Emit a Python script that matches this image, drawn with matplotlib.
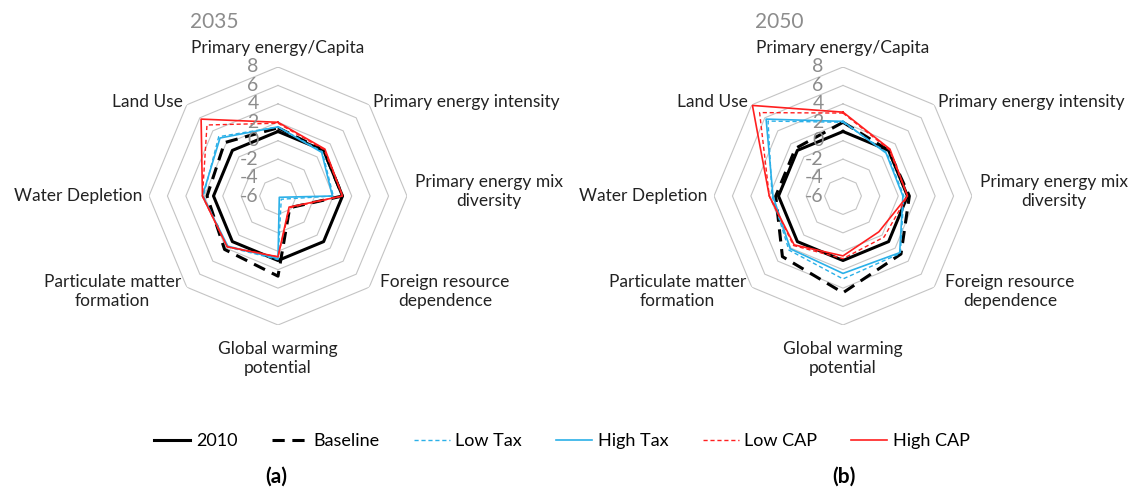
import numpy as np
import matplotlib.pyplot as plt
from matplotlib.lines import Line2D

plt.rcParams['font.family'] = ['Lato', 'DejaVu Sans']

# axes, clockwise from the top
categories = ["Primary energy/Capita", "Primary energy intensity",
              "Primary energy mix\ndiversity", "Foreign resource\ndependence",
              "Global warming\npotential", "Particulate matter\nformation",
              "Water Depletion", "Land Use"]

series_names = ["2010", "Baseline", "Low Tax", "High Tax", "Low CAP", "High CAP"]

# 2035
y2035_2010 = [1, 1, 1, 1, 1, 1, 1, 1]
y2035_baseline = [1.4, 1.0, 1.0, -4.2, 2.7, 2.2, 1.7, 2.2]
y2035_lowtax = [1.5, 0.8, 0.0, -5.5, 0.9, 1.8, 2.1, 3.1]
y2035_hightax = [1.5, 0.7, -0.1, -5.8, 0.8, 1.7, 2.2, 2.9]
y2035_lowcap = [1.9, 1.1, 1.0, -4.2, 0.6, 1.8, 2.2, 4.9]
y2035_highcap = [2.0, 1.2, 1.0, -4.3, 0.6, 1.8, 2.2, 5.8]

# 2050
y2050_2010 = [1, 1, 1, 1, 1, 1, 1, 1]
y2050_baseline = [2.0, 1.0, 1.2, 2.9, 4.5, 3.3, 1.3, 1.3]
y2050_lowtax = [2.0, 0.7, 0.6, 2.8, 3.0, 2.3, 1.7, 5.5]
y2050_hightax = [2.1, 0.6, 0.5, 2.7, 2.4, 2.1, 1.6, 5.8]
y2050_lowcap = [3.0, 1.1, 1.0, 0.3, 0.8, 1.6, 2.0, 6.8]
y2050_highcap = [3.1, 1.2, 1.0, -0.5, 0.5, 1.5, 2.0, 7.9]

r_ticks = [-6, -4, -2, 0, 2, 4, 6, 8]

styles = [
    dict(color="black", lw=2.2, ls="-"),
    dict(color="black", lw=2.2, ls=(0, (4, 2.5))),
    dict(color="#2BB0E8", lw=1.0, ls=(0, (3, 2))),
    dict(color="#2BB0E8", lw=1.2, ls="-"),
    dict(color="#FF1F1F", lw=1.0, ls=(0, (3, 2))),
    dict(color="#FF1F1F", lw=1.2, ls="-"),
]

# label offsets (points) from the outer vertex, and alignment
label_pos = [
    ((0, 14), "center"), ((3, 2), "left"), ((6, 3), "left"), ((8, -3), "left"),
    ((0, -24), "center"), ((-4, -3), "right"), ((-5, 0), "right"), ((-3, 2), "right"),
]

fig = plt.figure(figsize=(11.37, 4.95), dpi=100)
W, H = 1137, 495
R = 129

theta = np.linspace(0, 2 * np.pi, len(categories), endpoint=False)
theta_c = np.append(theta, theta[0])

def radar(cx, cy, data, year):
    ax = fig.add_axes([(cx - R) / W, (H - cy - R) / H, 2 * R / W, 2 * R / H], polar=True)
    ax.set_theta_offset(np.pi / 2)
    ax.set_theta_direction(-1)
    ax.set_ylim(-6, 8)
    ax.grid(False)
    ax.spines['polar'].set_visible(False)
    ax.set_xticks([])
    ax.set_yticks([])
    for v in r_ticks[1:]:
        ax.plot(theta_c, [v] * len(theta_c), color="#C4C4C4", lw=0.8, zorder=1)
    for vals, st in zip(data, styles):
        ax.plot(theta_c, list(vals) + [vals[0]], zorder=3, **st)
    for v in r_ticks:
        ax.annotate(str(v), xy=(0, v), xytext=(-14, 0), textcoords="offset points",
                    ha="right", va="center", color="#8C8C8C", fontsize=14, zorder=4)
    for t, lab, (off, ha) in zip(theta, categories, label_pos):
        ax.annotate(lab, xy=(t, 8), xytext=off, textcoords="offset points",
                    ha=ha, va="center", multialignment="center", fontsize=12.5,
                    color="#222222", linespacing=1.25, annotation_clip=False)
    fig.text((cx - 88) / W, 1 - 22 / H, year, ha="left", va="center",
             color="#8C8C8C", fontsize=15)
    return ax

radar(278, 196, [y2035_2010, y2035_baseline, y2035_lowtax, y2035_hightax,
                 y2035_lowcap, y2035_highcap], "2035")
radar(843, 196, [y2050_2010, y2050_baseline, y2050_lowtax, y2050_hightax,
                 y2050_lowcap, y2050_highcap], "2050")

handles = [Line2D([], [], **st) for st in styles]
fig.legend(handles, series_names, loc="center", bbox_to_anchor=(562 / W, 1 - 441 / H),
           ncol=6, frameon=False, fontsize=13, handlelength=2.0, handletextpad=0.3,
           columnspacing=1.9)

fig.text(276 / W, 1 - 477 / H, "(a)", ha="center", va="center", fontsize=15, weight="bold")
fig.text(844 / W, 1 - 477 / H, "(b)", ha="center", va="center", fontsize=15, weight="bold")

fig.savefig("out.png", dpi=100)
